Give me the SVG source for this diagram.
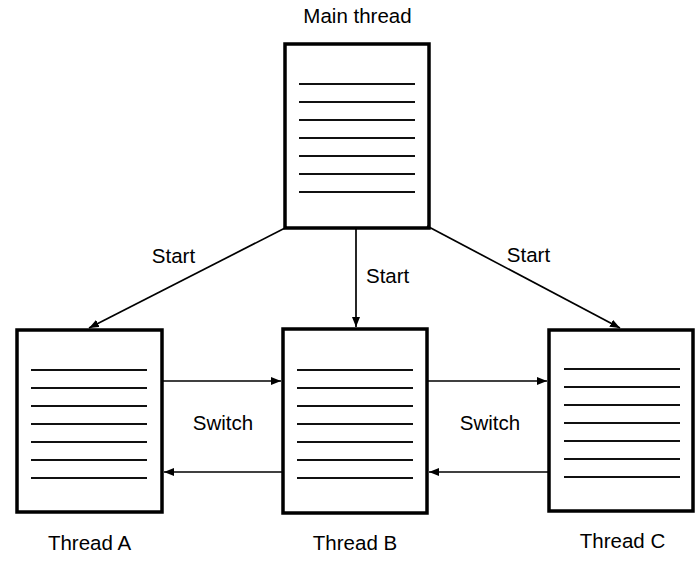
<svg xmlns="http://www.w3.org/2000/svg" width="698" height="561" viewBox="0 0 698 561">
<defs>
<style>
.box{fill:#fff;stroke:#000;stroke-width:3.5}
.ln{stroke:#111;stroke-width:2.2}
.cn{stroke:#000;stroke-width:1.7;fill:none}
text{font-family:"Liberation Sans",Arial,sans-serif;font-size:20.5px;fill:#000}
</style>
<marker id="ah" viewBox="0 0 10 8" refX="10" refY="4" markerWidth="10" markerHeight="8" markerUnits="userSpaceOnUse" orient="auto">
<path d="M0,0 L10,4 L0,8 Z" fill="#000"/>
</marker>
<g id="lines">
<path class="ln" d="M0,0h116M0,18h116M0,36h116M0,54h116M0,72h116M0,90h116M0,108h116"/>
</g>
</defs>
<rect width="698" height="561" fill="#fff"/>
<g id="main">
<rect class="box" x="285" y="44" width="144" height="184"/>
<use href="#lines" x="299" y="84"/>
<text x="357.5" y="23" text-anchor="middle">Main thread</text>
</g>
<g id="threadA">
<rect class="box" x="17" y="330" width="145" height="182"/>
<use href="#lines" x="31" y="370"/>
<text x="89.5" y="550" text-anchor="middle">Thread A</text>
</g>
<g id="threadB">
<rect class="box" x="283" y="329" width="144" height="184"/>
<use href="#lines" x="297" y="370"/>
<text x="355" y="550" text-anchor="middle">Thread B</text>
</g>
<g id="threadC">
<rect class="box" x="549" y="330" width="144" height="181"/>
<use href="#lines" x="564" y="369"/>
<text x="622.5" y="548" text-anchor="middle">Thread C</text>
</g>
<g id="connectors">
<line class="cn" x1="287" y1="227" x2="89" y2="328" marker-end="url(#ah)"/>
<line class="cn" x1="356" y1="228" x2="356" y2="327" marker-end="url(#ah)"/>
<line class="cn" x1="427" y1="226" x2="620" y2="328" marker-end="url(#ah)"/>
<line class="cn" x1="163" y1="381" x2="281" y2="381" marker-end="url(#ah)"/>
<line class="cn" x1="283" y1="472" x2="164" y2="472" marker-end="url(#ah)"/>
<line class="cn" x1="428" y1="381" x2="547" y2="381" marker-end="url(#ah)"/>
<line class="cn" x1="549" y1="472" x2="429" y2="472" marker-end="url(#ah)"/>
<text x="173.5" y="263" text-anchor="middle">Start</text>
<text x="366" y="283">Start</text>
<text x="528.5" y="262" text-anchor="middle">Start</text>
<text x="223" y="430" text-anchor="middle">Switch</text>
<text x="490" y="430" text-anchor="middle">Switch</text>
</g>
</svg>
